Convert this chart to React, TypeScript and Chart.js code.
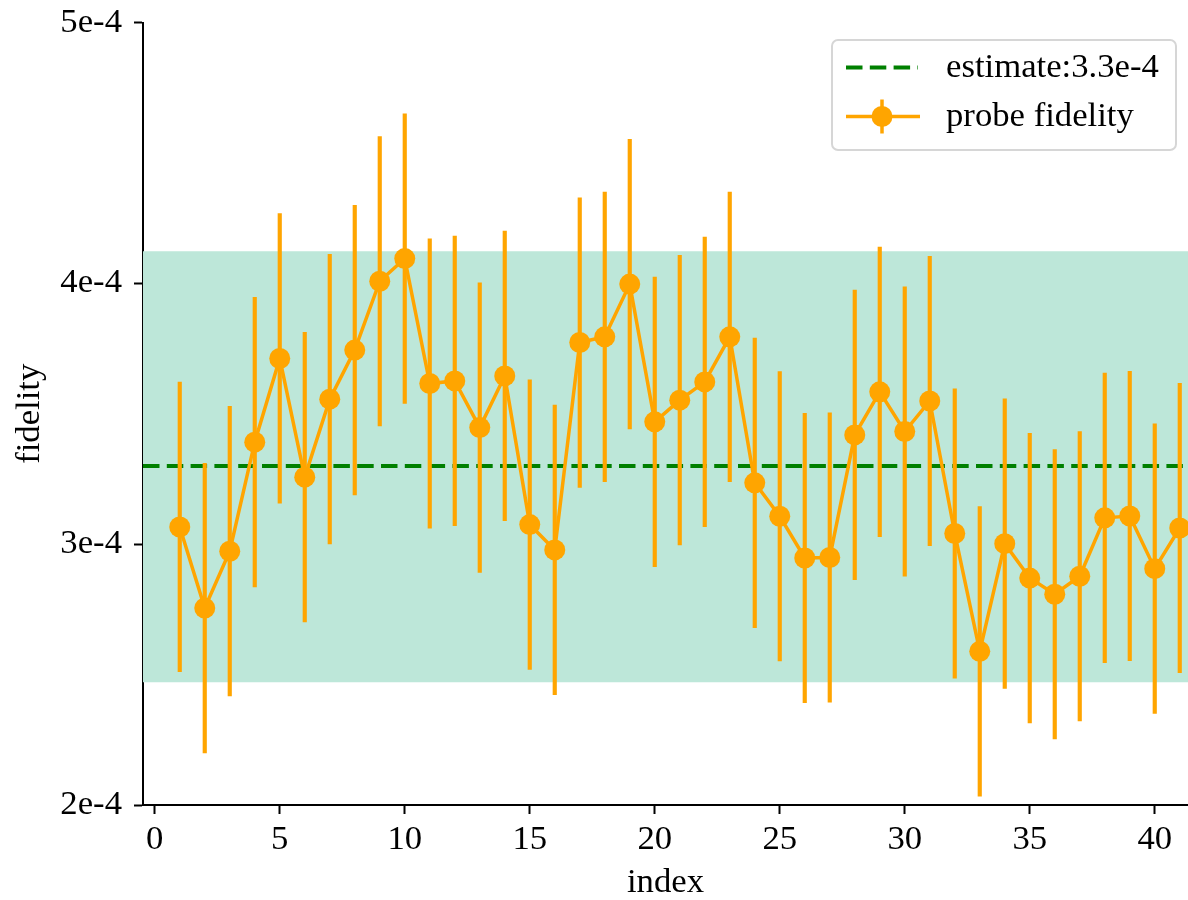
import React, { useEffect, useRef } from "react";
import { Chart, registerables } from "chart.js";

Chart.register(...registerables);

// ---------------- data ----------------
const indices = [
  1, 2, 3, 4, 5, 6, 7, 8, 9, 10, 11, 12, 13, 14, 15, 16, 17, 18, 19, 20, 21,
  22, 23, 24, 25, 26, 27, 28, 29, 30, 31, 32, 33, 34, 35, 36, 37, 38, 39, 40, 41,
];
const fidelity = [
  3.066e-4, 2.755e-4, 2.973e-4, 3.391e-4, 3.712e-4, 3.257e-4, 3.556e-4, 3.744e-4,
  4.008e-4, 4.095e-4, 3.616e-4, 3.626e-4, 3.447e-4, 3.645e-4, 3.075e-4, 2.978e-4,
  3.773e-4, 3.795e-4, 3.997e-4, 3.469e-4, 3.552e-4, 3.622e-4, 3.795e-4, 3.235e-4,
  3.107e-4, 2.947e-4, 2.949e-4, 3.419e-4, 3.584e-4, 3.432e-4, 3.549e-4, 3.041e-4,
  2.589e-4, 3.002e-4, 2.87e-4, 2.808e-4, 2.877e-4, 3.101e-4, 3.108e-4, 2.906e-4,
  3.062e-4,
];
const fidelityErr = [
  0.555e-4, 0.555e-4, 0.555e-4, 0.555e-4, 0.555e-4, 0.555e-4, 0.555e-4, 0.555e-4,
  0.555e-4, 0.555e-4, 0.555e-4, 0.555e-4, 0.555e-4, 0.555e-4, 0.555e-4, 0.555e-4,
  0.555e-4, 0.555e-4, 0.555e-4, 0.555e-4, 0.555e-4, 0.555e-4, 0.555e-4, 0.555e-4,
  0.555e-4, 0.555e-4, 0.555e-4, 0.555e-4, 0.555e-4, 0.555e-4, 0.555e-4, 0.555e-4,
  0.555e-4, 0.555e-4, 0.555e-4, 0.555e-4, 0.555e-4, 0.555e-4, 0.555e-4, 0.555e-4,
  0.555e-4,
];
const estimate = 3.3e-4;
const bandLow = 2.471e-4;
const bandHigh = 4.123e-4;
const xMin = -0.47;
const xMax = 41.33;
const yMin = 2e-4;
const yMax = 5e-4;
const xTicks = [0, 5, 10, 15, 20, 25, 30, 35, 40];
const yTicks = [2e-4, 3e-4, 4e-4, 5e-4];
const yTickLabels = ["2e-4", "3e-4", "4e-4", "5e-4"];
const legendLabels = ["estimate:3.3e-4", "probe fidelity"];
const xTitle = "index";
const yTitle = "fidelity";

// ---------------- style ----------------
const FONT = '"Liberation Serif", "Times New Roman", Times, serif';
const FS = 34.7;
const ORANGE = "#ffa500";
const GREEN = "#008000";
const BAND = "rgb(189,231,217)";
const DASH = [16.5, 7.3];

const zeroPadding = (s: any) => {
  s.paddingTop = 0;
  s.paddingBottom = 0;
  s.paddingLeft = 0;
  s.paddingRight = 0;
};

const legendPlugin = {
  id: "mplLegend",
  afterDraw(chart: any) {
    const { ctx, chartArea } = chart;
    const right = chartArea.right - 12;
    const top = chartArea.top + 17.5;
    const w = 344;
    const h = 110;
    const left = right - w;
    ctx.save();
    ctx.beginPath();
    if ((ctx as any).roundRect) (ctx as any).roundRect(left, top, w, h, 6);
    else ctx.rect(left, top, w, h);
    ctx.fillStyle = "rgba(255,255,255,0.8)";
    ctx.fill();
    ctx.strokeStyle = "rgb(214,214,214)";
    ctx.lineWidth = 2;
    ctx.stroke();

    const lx0 = left + 14;
    const lx1 = left + 86;
    const r1 = top + 27.5;
    const r2 = top + 76.5;
    // row 1: dashed green
    ctx.beginPath();
    ctx.setLineDash(DASH);
    ctx.strokeStyle = GREEN;
    ctx.lineWidth = 4;
    ctx.moveTo(lx0, r1);
    ctx.lineTo(lx1, r1);
    ctx.stroke();
    ctx.setLineDash([]);
    // row 2: orange line + marker + errorbar
    const mx = (lx0 + lx1) / 2;
    ctx.beginPath();
    ctx.strokeStyle = ORANGE;
    ctx.lineWidth = 3.5;
    ctx.moveTo(lx0, r2);
    ctx.lineTo(lx1 + 2, r2);
    ctx.moveTo(mx, r2 - 17);
    ctx.lineTo(mx, r2 + 17);
    ctx.stroke();
    ctx.beginPath();
    ctx.fillStyle = ORANGE;
    ctx.arc(mx, r2, 10.5, 0, Math.PI * 2);
    ctx.fill();
    // texts
    ctx.fillStyle = "#000";
    ctx.font = `${FS}px ${FONT}`;
    ctx.textAlign = "left";
    ctx.textBaseline = "middle";
    ctx.fillText(legendLabels[0], left + 114, r1);
    ctx.fillText(legendLabels[1], left + 114, r2);
    ctx.restore();
  },
};

export default function App() {
  const canvasRef = useRef<HTMLCanvasElement | null>(null);

  useEffect(() => {
    const canvas = canvasRef.current;
    if (!canvas) return;
    const chart = new Chart(canvas, {
      type: "line",
      data: {
        datasets: [
          {
            type: "line",
            label: "band",
            data: [
              { x: xMin, y: bandHigh },
              { x: xMax, y: bandHigh },
            ],
            borderColor: "transparent",
            borderWidth: 0,
            pointRadius: 0,
            backgroundColor: BAND,
            fill: { value: bandLow },
            order: 4,
          } as any,
          {
            type: "line",
            label: legendLabels[0],
            data: [
              { x: xMin, y: estimate },
              { x: xMax, y: estimate },
            ],
            borderColor: GREEN,
            borderWidth: 4,
            borderDash: DASH,
            pointRadius: 0,
            fill: false,
            order: 3,
          },
          {
            type: "bar",
            label: "errors",
            data: indices.map((x, i) => ({
              x,
              y: [fidelity[i] - fidelityErr[i], fidelity[i] + fidelityErr[i]],
            })),
            backgroundColor: ORANGE,
            borderWidth: 0,
            barThickness: 3.5,
            grouped: false,
            order: 2,
          } as any,
          {
            type: "line",
            label: legendLabels[1],
            data: indices.map((x, i) => ({ x, y: fidelity[i] })),
            borderColor: ORANGE,
            borderWidth: 3.5,
            pointRadius: 10.5,
            pointBackgroundColor: ORANGE,
            pointBorderWidth: 0,
            tension: 0,
            fill: false,
            order: 1,
          },
        ],
      },
      options: {
        responsive: false,
        animation: false,
        events: [],
        layout: {
          autoPadding: false,
          padding: { top: 22.5, right: 0, left: 0, bottom: 0 },
        },
        plugins: {
          legend: { display: false },
          tooltip: { enabled: false },
        },
        scales: {
          x: {
            type: "linear",
            min: xMin,
            max: xMax,
            offset: false,
            afterBuildTicks: (s: any) => {
              s.ticks = xTicks.map((v) => ({ value: v }));
            },
            afterFit: (s: any) => {
              s.height = 95;
              zeroPadding(s);
            },
            grid: {
              drawOnChartArea: false,
              drawTicks: true,
              tickLength: 9,
              tickWidth: 2,
              tickColor: "#000",
              offset: false,
            },
            border: { display: true, color: "#000", width: 2 },
            ticks: {
              color: "#000",
              font: { family: FONT, size: FS },
              padding: 5,
              autoSkip: false,
              maxRotation: 0,
              callback: (v: any) => String(v),
            },
            title: {
              display: true,
              text: xTitle,
              color: "#000",
              font: { family: FONT, size: FS, lineHeight: 1 },
              padding: 0,
            },
          },
          y: {
            type: "linear",
            min: yMin,
            max: yMax,
            afterBuildTicks: (s: any) => {
              s.ticks = yTicks.map((v) => ({ value: v }));
            },
            afterFit: (s: any) => {
              s.width = 143;
              zeroPadding(s);
            },
            grid: {
              drawOnChartArea: false,
              drawTicks: true,
              tickLength: 9,
              tickWidth: 2,
              tickColor: "#000",
            },
            border: { display: true, color: "#000", width: 2 },
            ticks: {
              color: "#000",
              font: { family: FONT, size: FS },
              padding: 12,
              autoSkip: false,
              callback: (v: any) => {
                const i = yTicks.findIndex((t) => Math.abs(t - v) < 1e-9);
                return i >= 0 ? yTickLabels[i] : "";
              },
            },
            title: {
              display: true,
              text: yTitle,
              color: "#000",
              font: { family: FONT, size: FS, lineHeight: 1.2 },
              padding: { top: 9, bottom: 0 },
            },
          },
        },
      },
      plugins: [legendPlugin],
    });
    return () => chart.destroy();
  }, []);

  return (
    <div
      style={{
        position: "fixed",
        left: 0,
        top: 0,
        width: 1188,
        height: 900,
        background: "#fff",
      }}
    >
      <canvas
        ref={canvasRef}
        width={1188}
        height={900}
        style={{ display: "block", width: 1188, height: 900 }}
      />
    </div>
  );
}
